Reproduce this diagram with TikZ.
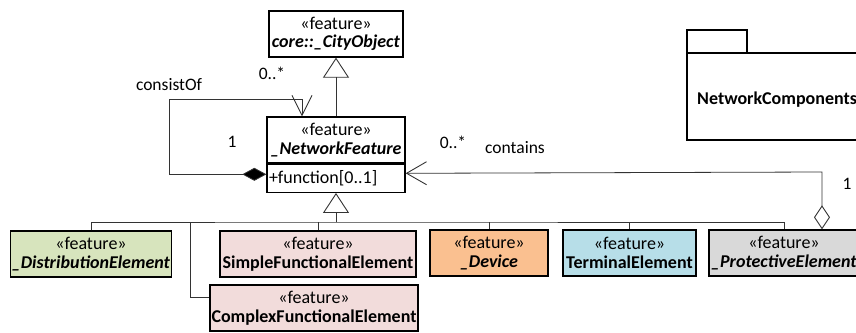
\documentclass[tikz,border=0pt]{standalone}
\usepackage{fontspec}
\setmainfont{Carlito}
\usetikzlibrary{arrows.meta}

\definecolor{distfill}{RGB}{215,228,189}
\definecolor{funcfill}{RGB}{242,220,219}
\definecolor{devfill}{RGB}{250,192,144}
\definecolor{termfill}{RGB}{183,222,232}
\definecolor{protfill}{RGB}{217,217,217}

\begin{document}
\begin{tikzpicture}[x=1pt,y=-1pt,
  txt/.style={font=\fontsize{17.5}{18}\selectfont},
  cls/.style={draw, line width=1.3pt, inner sep=0pt, align=center,
    font=\fontsize{18}{18.5}\selectfont, minimum height=46pt},
  link/.style={line width=0.8pt, draw=black!80},
  gen/.style={link, -{Triangle[open, length=20pt, width=26pt, line width=0.9pt]}},
  comp/.style={link, {Diamond[fill=black, length=24pt, width=13pt]}-{Straight Barb[length=20pt, width=20pt, line width=0.9pt]}},
  aggr/.style={link, {Diamond[open, fill=white, length=24pt, width=16pt, line width=0.9pt]}-{Straight Barb[length=20pt, width=23pt, line width=0.9pt]}},
]
\useasboundingbox (0,0) rectangle (856,332);
\clip (0,0) rectangle (856,332);

% class boxes
\node[cls, minimum width=134pt] (city) at (336,34)
  {«feature»\\\textbf{\textit{core::\_CityObject}}};
\node[cls, minimum width=138pt] (nf) at (336,140)
  {«feature»\\\textbf{\textit{\_NetworkFeature}}};
\node[cls, minimum width=138pt, minimum height=28pt, align=left, anchor=north,
  text width=134pt] (nfa) at (nf.south) {+function[0..1]};

\node[cls, fill=distfill, minimum width=161pt] (dist) at (91,254)
  {«feature»\\\textbf{\textit{\_DistributionElement}}};
\node[cls, fill=funcfill, minimum width=196pt] (simple) at (318,254)
  {«feature»\\\textbf{SimpleFunctionalElement}};
\node[cls, fill=funcfill, minimum width=208pt] (complex) at (314,308)
  {«feature»\\\textbf{ComplexFunctionalElement}};
\node[cls, fill=devfill, minimum width=118pt] (device) at (489,253)
  {«feature»\\\textbf{\textit{\_Device}}};
\node[cls, fill=termfill, minimum width=133pt] (term) at (629.5,253)
  {«feature»\\\textbf{TerminalElement}};
\node[cls, fill=protfill, minimum width=150pt] (prot) at (784,253)
  {«feature»\\\textbf{\textit{\_ProtectiveElement}}};

% package
\draw[line width=1.3pt] (687,53) rectangle (747,30);
\draw[line width=1.3pt] (870,53) -- (687,53) -- (687,140) -- (870,140);
\node[anchor=west, inner sep=0pt, font=\fontsize{18}{18}\selectfont\bfseries] (pkg) at (697,100) {NetworkComponents};

% generalizations
\draw[gen] (nf.north) -- (city.south);
\coordinate (bus) at (336,222);
\draw[gen] (bus) -- (nfa.south);
\draw[link] (dist.north) |- (bus) -| (prot.north);
\draw[link] (simple.north) -- (simple.north |- bus);
\draw[link] (device.north) -- (device.north |- bus);
\draw[link] (term.north) -- (term.north |- bus);
\coordinate (cbr) at (190,222);
\draw[link] (cbr) |- ([yshift=11pt]complex.west);

% consistOf composition
\coordinate (loopL) at (169,99);
\draw[comp] ([yshift=4pt]nfa.west) -| (loopL) -| ([xshift=-34pt]nf.north);
\node[txt] (lconsist) at (169,85) {consistOf};
\node[txt] (lmany1) at (272,73) {0..*};
\node[txt] (lone1) at (232,142) {1};

% contains aggregation
\coordinate (aggR) at (822,172);
\draw[aggr] (prot.north -| aggR) -- (aggR) -- ([yshift=5pt]nfa.east);
\node[txt] (lmany2) at (453,142) {0..*};
\node[txt] (lcont) at (515,148) {contains};
\node[txt] (lone2) at (847,184) {1};
\end{tikzpicture}
\end{document}
